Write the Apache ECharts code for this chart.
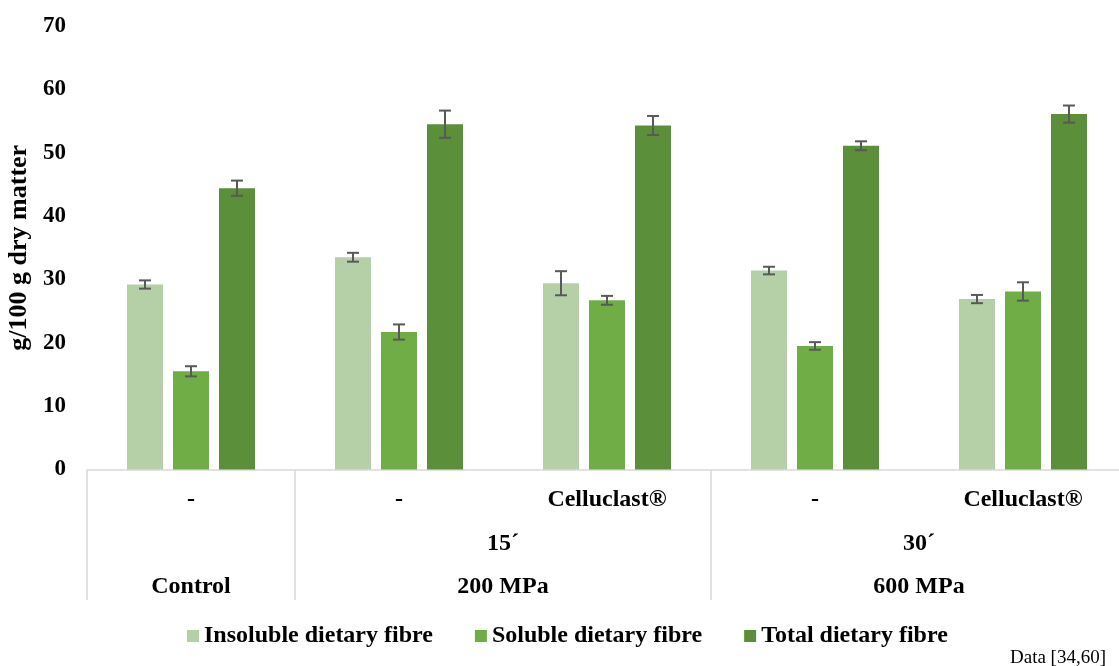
<!DOCTYPE html>
<html>
<head>
<meta charset="utf-8">
<title>Dietary fibre content</title>
<script src="https://cdn.jsdelivr.net/npm/echarts@6/dist/echarts.min.js"></script>
<style>
  html, body { margin: 0; padding: 0; background: #ffffff; }
  #chart { width: 1119px; height: 666px; }
</style>
</head>
<body>
<div id="chart"></div>
<script>
// Treatment row (one entry per bar group)
const treatments = ['-', '-', 'Celluclast\u00AE', '-', 'Celluclast\u00AE'];
// Time and pressure rows, each spanning a number of bar groups
const timeLabels = ['', '15\u00B4', '30\u00B4'];
const pressureLabels = ['Control', '200 MPa', '600 MPa'];
const groupSpans = [1, 2, 2];

// g/100 g dry matter, mean and error
const insoluble    = [29.2, 33.5, 29.4, 31.4, 26.9];
const insolubleErr = [0.65, 0.7, 1.9, 0.6, 0.65];
const soluble      = [15.5, 21.7, 26.7, 19.5, 28.1];
const solubleErr   = [0.8, 1.2, 0.7, 0.6, 1.45];
const total        = [44.4, 54.5, 54.3, 51.1, 56.1];
const totalErr     = [1.2, 2.15, 1.5, 0.7, 1.35];

const yTicks = [0, 10, 20, 30, 40, 50, 60, 70];

const seriesNames = ['Insoluble dietary fibre', 'Soluble dietary fibre', 'Total dietary fibre'];
const seriesColors = ['#b5cfa6', '#70ad47', '#5b8f39'];

const FONT = '"Liberation Serif", "Times New Roman", serif';
const BAR_W = 36;
const BAR_GAP = 10;
const PLOT_LEFT = 87;
const PLOT_WIDTH = 1040;

// centre of each spanning group, in bar-group units
const spanCentres = [];
const spanEdges = [0];
groupSpans.reduce((start, span) => {
  spanCentres.push(start + span / 2);
  spanEdges.push(start + span);
  return start + span;
}, 0);

function spanLabel(labels) {
  return function (value) {
    const idx = spanCentres.findIndex(c => Math.abs(c - value) < 1e-6);
    return idx >= 0 ? labels[idx] : '';
  };
}

// split lines of the table below the plot: only at group borders
const tableColors = [];
for (let i = 0; i <= treatments.length; i++) {
  tableColors.push(spanEdges.includes(i) ? '#d9d9d9' : 'rgba(0,0,0,0)');
}

function errorRenderer(offset) {
  return function (params, api) {
    const cx = api.coord([api.value(0), 0])[0] + offset;
    const lo = api.coord([api.value(0), api.value(1)])[1];
    const hi = api.coord([api.value(0), api.value(2)])[1];
    const style = { stroke: '#595959', lineWidth: 2 };
    const half = 6;
    return {
      type: 'group',
      children: [
        { type: 'line', shape: { x1: cx, y1: lo, x2: cx, y2: hi }, style: style },
        { type: 'line', shape: { x1: cx - half, y1: hi, x2: cx + half, y2: hi }, style: style },
        { type: 'line', shape: { x1: cx - half, y1: lo, x2: cx + half, y2: lo }, style: style }
      ]
    };
  };
}

const means = [insoluble, soluble, total];
const errs = [insolubleErr, solubleErr, totalErr];

const series = [];
means.forEach((vals, k) => {
  series.push({
    name: seriesNames[k],
    type: 'bar',
    xAxisIndex: 0,
    yAxisIndex: 0,
    barWidth: BAR_W,
    barGap: (BAR_GAP / BAR_W * 100) + '%',
    itemStyle: { color: seriesColors[k] },
    data: vals,
    z: 2
  });
});
means.forEach((vals, k) => {
  series.push({
    name: seriesNames[k] + ' error',
    type: 'custom',
    xAxisIndex: 0,
    yAxisIndex: 0,
    renderItem: errorRenderer((k - 1) * (BAR_W + BAR_GAP)),
    encode: { x: 0, y: [1, 2] },
    data: vals.map((v, i) => [i, v - errs[k][i], v + errs[k][i]]),
    z: 3,
    silent: true
  });
});

const chart = echarts.init(document.getElementById('chart'), null, { renderer: 'canvas' });

chart.setOption({
  animation: false,
  backgroundColor: '#ffffff',
  title: {
    text: 'Data [34,60]',
    right: 8,
    top: 644,
    textStyle: { fontFamily: FONT, fontSize: 19, fontWeight: 'normal', color: '#000000' }
  },
  legend: {
    data: seriesNames,
    left: 182,
    top: 619,
    icon: 'rect',
    itemWidth: 12,
    itemHeight: 12,
    itemGap: 42,
    textStyle: { fontFamily: FONT, fontSize: 24, fontWeight: 'bold', color: '#000000' }
  },
  grid: [
    { left: PLOT_LEFT, width: PLOT_WIDTH, top: 26, bottom: 196.5, containLabel: false, outerBoundsMode: 'none' },
    { left: PLOT_LEFT, width: PLOT_WIDTH, top: 470, height: 130, containLabel: false, outerBoundsMode: 'none' }
  ],
  xAxis: [
    {
      type: 'category',
      gridIndex: 0,
      data: treatments,
      axisLine: { show: true, lineStyle: { color: '#d9d9d9', width: 1.5 } },
      axisTick: { show: false },
      axisLabel: {
        margin: 30.5,
        verticalAlign: 'middle',
        interval: 0,
        fontFamily: FONT, fontSize: 24, fontWeight: 'bold', color: '#000000'
      },
      splitLine: { show: false }
    },
    {
      type: 'value',
      gridIndex: 0,
      min: 0, max: treatments.length, interval: 0.5,
      position: 'bottom',
      axisLine: { show: false }, axisTick: { show: false }, splitLine: { show: false },
      axisLabel: {
        margin: 74.5,
        verticalAlign: 'middle',
        formatter: spanLabel(timeLabels),
        fontFamily: FONT, fontSize: 24, fontWeight: 'bold', color: '#000000'
      }
    },
    {
      type: 'value',
      gridIndex: 0,
      min: 0, max: treatments.length, interval: 0.5,
      position: 'bottom',
      axisLine: { show: false }, axisTick: { show: false }, splitLine: { show: false },
      axisLabel: {
        margin: 117,
        verticalAlign: 'middle',
        formatter: spanLabel(pressureLabels),
        fontFamily: FONT, fontSize: 24, fontWeight: 'bold', color: '#000000'
      }
    },
    {
      type: 'value',
      gridIndex: 1,
      min: 0, max: treatments.length, interval: 1,
      axisLine: { show: false }, axisTick: { show: false }, axisLabel: { show: false },
      splitLine: { show: true, lineStyle: { color: tableColors, width: 1.5 } }
    }
  ],
  yAxis: [
    {
      type: 'value',
      gridIndex: 0,
      min: yTicks[0],
      max: yTicks[yTicks.length - 1],
      interval: yTicks[1] - yTicks[0],
      name: 'g/100 g dry matter',
      nameLocation: 'middle',
      nameGap: 50,
      nameTextStyle: { fontFamily: FONT, fontSize: 26, fontWeight: 'bold', color: '#000000' },
      axisLine: { show: false },
      axisTick: { show: false },
      splitLine: { show: false },
      axisLabel: {
        margin: 21,
        padding: [5, 0, 0, 0],
        fontFamily: FONT, fontSize: 23, fontWeight: 'bold', color: '#000000'
      }
    },
    {
      type: 'value',
      gridIndex: 1,
      show: false,
      min: 0, max: 1
    }
  ],
  series: series
});
</script>
</body>
</html>
